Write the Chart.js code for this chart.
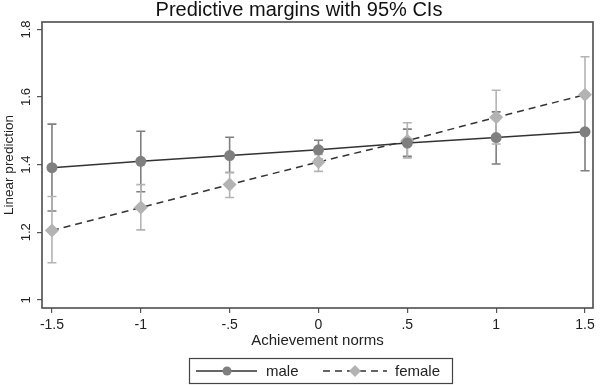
<!DOCTYPE html>
<html>
<head>
<meta charset="utf-8">
<script src="https://cdn.jsdelivr.net/npm/chart.js@4"></script>
<style>
html,body{margin:0;padding:0;background:#fff;}
#wrap{width:600px;height:385px;position:relative;}
</style>
</head>
<body>
<div id="wrap"><canvas id="c" width="600" height="385"></canvas></div>
<script>
const xValues = [-1.5, -1, -0.5, 0, 0.5, 1, 1.5];
const xTickLabels = ["-1.5", "-1", "-.5", "0", ".5", "1", "1.5"];
const yTickValues = [1, 1.2, 1.4, 1.6, 1.8];
const yTickLabels = ["1", "1.2", "1.4", "1.6", "1.8"];
const seriesNames = ["male", "female"];
const male = [1.391, 1.41, 1.427, 1.444, 1.464, 1.48, 1.497];
const maleLow = [1.263, 1.32, 1.377, 1.416, 1.425, 1.402, 1.382];
const maleHigh = [1.52, 1.499, 1.481, 1.472, 1.505, 1.556, 1.612];
const female = [1.205, 1.273, 1.341, 1.408, 1.471, 1.54, 1.607];
const femaleLow = [1.11, 1.207, 1.303, 1.38, 1.42, 1.461, 1.495];
const femaleHigh = [1.306, 1.341, 1.377, 1.43, 1.524, 1.62, 1.719];

const FONT = "'Liberation Sans', Arial, sans-serif";
const ciColors = ["#7f7f7f", "#b3b3b3"];
const ciLow = [maleLow, femaleLow];
const ciHigh = [maleHigh, femaleHigh];

const toPts = arr => arr.map((v, i) => ({x: xValues[i], y: v}));

const ciPlugin = {
  id: 'ci',
  beforeDatasetsDraw(chart) {
    const ctx = chart.ctx, xs = chart.scales.x, ys = chart.scales.y;
    ctx.save();
    ctx.lineWidth = 1.6;
    for (let d = 0; d < 2; d++) {
      ctx.strokeStyle = ciColors[d];
      xValues.forEach((xv, i) => {
        const px = xs.getPixelForValue(xv);
        const y1 = ys.getPixelForValue(ciLow[d][i]);
        const y2 = ys.getPixelForValue(ciHigh[d][i]);
        ctx.beginPath();
        ctx.moveTo(px, y1); ctx.lineTo(px, y2);
        ctx.moveTo(px - 4.5, y1); ctx.lineTo(px + 4.5, y1);
        ctx.moveTo(px - 4.5, y2); ctx.lineTo(px + 4.5, y2);
        ctx.stroke();
      });
    }
    ctx.restore();
  }
};

const framePlugin = {
  id: 'frame',
  afterDraw(chart) {
    const ctx = chart.ctx, a = chart.chartArea;
    ctx.save();
    ctx.strokeStyle = '#4d4d4d';
    ctx.lineWidth = 1.6;
    ctx.strokeRect(a.left, a.top, a.right - a.left, a.bottom - a.top);
    // legend
    const lx = 189.5, ly = 358.5, lw = 263, lh = 25;
    ctx.lineWidth = 1.2;
    ctx.strokeStyle = '#444';
    ctx.strokeRect(lx, ly, lw, lh);
    const cy = ly + lh / 2;
    ctx.strokeStyle = '#333';
    ctx.lineWidth = 1.5;
    ctx.beginPath(); ctx.moveTo(196, cy); ctx.lineTo(257, cy); ctx.stroke();
    ctx.fillStyle = '#7f7f7f';
    ctx.beginPath(); ctx.arc(227, cy, 4.5, 0, Math.PI * 2); ctx.fill();
    ctx.setLineDash([7, 5]);
    ctx.beginPath(); ctx.moveTo(323, cy); ctx.lineTo(387, cy); ctx.stroke();
    ctx.setLineDash([]);
    ctx.fillStyle = '#b3b3b3';
    ctx.beginPath();
    ctx.moveTo(355, cy - 6); ctx.lineTo(361, cy); ctx.lineTo(355, cy + 6); ctx.lineTo(349, cy);
    ctx.closePath(); ctx.fill();
    ctx.fillStyle = '#222';
    ctx.font = "15px " + FONT;
    ctx.textBaseline = 'middle';
    ctx.textAlign = 'left';
    ctx.fillText(seriesNames[0], 266, cy + 1);
    ctx.fillText(seriesNames[1], 395, cy + 1);
    ctx.restore();
  }
};

new Chart(document.getElementById('c'), {
  type: 'line',
  data: {
    datasets: [
      {
        label: seriesNames[0],
        data: toPts(male),
        borderColor: '#333',
        borderWidth: 1.5,
        pointStyle: 'circle',
        pointRadius: 5.5,
        pointBackgroundColor: '#7f7f7f',
        pointBorderWidth: 0,
        tension: 0
      },
      {
        label: seriesNames[1],
        data: toPts(female),
        borderColor: '#333',
        borderWidth: 1.5,
        borderDash: [7, 5],
        pointStyle: 'rectRot',
        pointRadius: 7,
        pointBackgroundColor: '#b3b3b3',
        pointBorderWidth: 0,
        tension: 0
      }
    ]
  },
  options: {
    responsive: false,
    animation: false,
    events: [],
    layout: {padding: {left: 0, right: 2, top: 0, bottom: 35}},
    plugins: {
      legend: {display: false},
      tooltip: {enabled: false},
      title: {
        display: true,
        text: 'Predictive margins with 95% CIs',
        color: '#111',
        font: {family: FONT, size: 20, weight: 'normal', lineHeight: 1.0},
        padding: {top: 0, bottom: 2}
      }
    },
    scales: {
      x: {
        type: 'linear',
        min: -1.556,
        max: 1.545,
        afterBuildTicks: s => { s.ticks = xValues.map(v => ({value: v})); },
        afterFit: s => { s.height = 42; },
        ticks: {
          callback: (v, i) => xTickLabels[i],
          color: '#222',
          font: {family: FONT, size: 14},
          padding: 4,
          maxRotation: 0
        },
        grid: {drawOnChartArea: false, drawTicks: true, tickLength: 5, color: '#555', lineWidth: 1.2},
        border: {display: false},
        title: {display: true, text: 'Achievement norms', color: '#222', font: {family: FONT, size: 15}, padding: {top: 0, bottom: 0}}
      },
      y: {
        type: 'linear',
        min: 0.976,
        max: 1.822,
        afterBuildTicks: s => { s.ticks = yTickValues.map(v => ({value: v})); },
        afterFit: s => { s.width = 42; },
        ticks: {
          callback: (v, i) => yTickLabels[i],
          color: '#222',
          font: {family: FONT, size: 13},
          padding: 2,
          minRotation: 90,
          maxRotation: 90,
          crossAlign: 'center'
        },
        grid: {drawOnChartArea: false, drawTicks: true, tickLength: 5, color: '#555', lineWidth: 1.2},
        border: {display: false},
        title: {display: true, text: 'Linear prediction', color: '#222', font: {family: FONT, size: 13.5}, padding: {top: 1, bottom: 0}}
      }
    }
  },
  plugins: [ciPlugin, framePlugin]
});
</script>
</body>
</html>
